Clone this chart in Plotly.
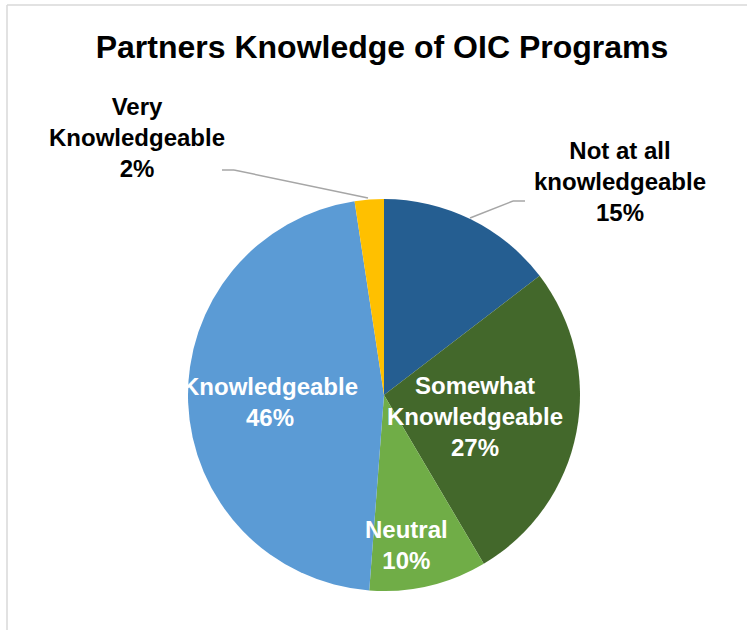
import plotly.graph_objects as go

labels = ["Not at all<br>knowledgeable", "Somewhat<br>Knowledgeable", "Neutral",
          "Knowledgeable", "Very<br>Knowledgeable"]
values = [14.6, 26.9, 9.7, 46.4, 2.4]  # labels show rounded %
colors = ["#255E91", "#43682B", "#70AD47", "#5B9BD5", "#FFC000"]

W, H = 747, 630
# label centres in pixels (x, y of the middle of the text block) and text colour
label_pos = [(620, 181, "black"), (475, 416, "white"), (406, 545, "white"),
             (270, 402, "white"), (137, 137, "black")]

fig = go.Figure()
fig.add_trace(go.Pie(labels=labels, values=values, sort=False, direction="clockwise",
                     rotation=0, textinfo="none", hoverinfo="label+percent",
                     marker=dict(colors=colors, line=dict(width=0)),
                     domain=dict(x=[(384 - 196) / W, (384 + 196) / W],
                                 y=[(235 - 196) / H, (235 + 196) / H]),
                     showlegend=False))

total = sum(values)
for (px_, py_, col), lab, v in zip(label_pos, labels, values):
    fig.add_annotation(x=px_ / W, y=1 - py_ / H, xref="paper", yref="paper",
                       xanchor="center", yanchor="middle",
                       text=f"<b>{lab}<br>{round(100 * v / total)}%</b>",
                       showarrow=False, align="center",
                       font=dict(family="Liberation Sans, Arial", size=24, color=col))

# leader lines
def seg(x0, y0, x1, y1, color="#A6A6A6"):
    fig.add_shape(type="line", xref="paper", yref="paper",
                  x0=x0 / W, y0=1 - y0 / H, x1=x1 / W, y1=1 - y1 / H,
                  line=dict(color=color, width=1.5))

seg(222, 170, 234, 170)
seg(234, 170, 368, 198)
seg(470, 218, 513, 201)
seg(513, 201, 525, 201)

# outer chart frame (cropped)
seg(7, 5, W, 5, "#D9D9D9")
seg(7, 5, 7, H, "#D9D9D9")

fig.update_layout(
    width=W, height=H,
    margin=dict(l=0, r=0, t=0, b=0),
    paper_bgcolor="white", plot_bgcolor="white",
    title=dict(text="<b>Partners Knowledge of OIC Programs</b>", x=382 / W, xanchor="center",
               y=1 - 47 / H, yanchor="middle",
               font=dict(family="Liberation Sans, Arial", size=32, color="black")),
)

fig.write_html("out.html", config={"displayModeBar": False},
               post_script="document.body.style.margin='0';")
